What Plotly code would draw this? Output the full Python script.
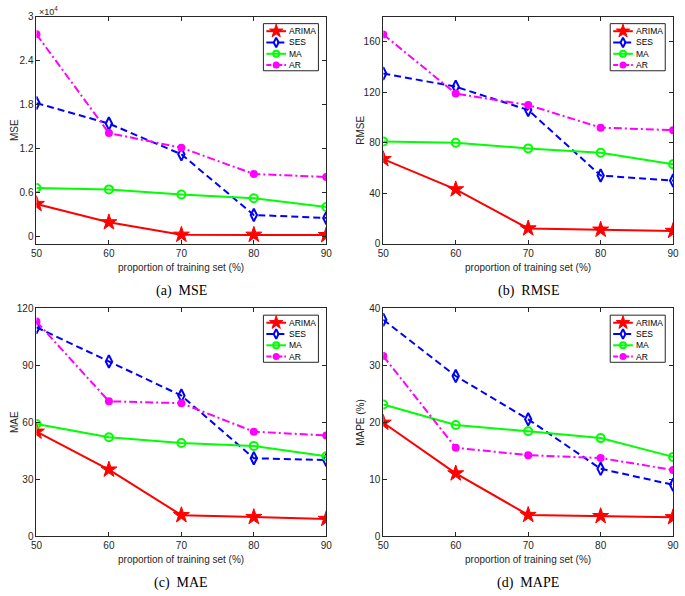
import plotly.graph_objects as go

W, H = 685, 596

x_props = [50, 60, 70, 80, 90]
models = ["ARIMA", "SES", "MA", "AR"]

# (a) MSE, in units of 1e4
mse_arima = [0.44, 0.19, 0.02, 0.02, 0.015]
mse_ses = [1.82, 1.54, 1.12, 0.29, 0.25]
mse_ma = [0.66, 0.64, 0.57, 0.52, 0.40]
mse_ar = [2.76, 1.41, 1.21, 0.85, 0.81]

# (b) RMSE
rmse_arima = [67, 43, 12, 11, 10]
rmse_ses = [135, 124.5, 106, 54, 50]
rmse_ma = [81, 80, 75.5, 72, 63]
rmse_ar = [166, 119, 110, 92, 90]

# (c) MAE
mae_arima = [55, 35, 11, 10, 9]
mae_ses = [110, 92, 74, 41, 40]
mae_ma = [59, 52, 49, 47.5, 42]
mae_ar = [113, 71, 70, 55, 53]

# (d) MAPE (%)
mape_arima = [19.9, 11.0, 3.7, 3.5, 3.3]
mape_ses = [38.0, 28.1, 20.5, 11.8, 9.0]
mape_ma = [23.1, 19.5, 18.4, 17.2, 13.9]
mape_ar = [31.6, 15.5, 14.2, 13.7, 11.6]

panels = [
    dict(series=[mse_arima, mse_ses, mse_ma, mse_ar], ytitle="MSE", caption="(a)  MSE",
         yrange=[-0.1, 3.0], ytickvals=[0, 0.6, 1.2, 1.8, 2.4, 3.0],
         yticktext=["0", "0.6", "1.2", "1.8", "2.4", "3"]),
    dict(series=[rmse_arima, rmse_ses, rmse_ma, rmse_ar], ytitle="RMSE", caption="(b)  RMSE",
         yrange=[0, 180], ytickvals=[0, 40, 80, 120, 160], yticktext=None),
    dict(series=[mae_arima, mae_ses, mae_ma, mae_ar], ytitle="MAE", caption="(c)  MAE",
         yrange=[0, 120], ytickvals=[0, 30, 60, 90, 120], yticktext=None),
    dict(series=[mape_arima, mape_ses, mape_ma, mape_ar], ytitle="MAPE (%)", caption="(d)  MAPE",
         yrange=[0, 40], ytickvals=[0, 10, 20, 30, 40], yticktext=None),
]

colors = {"ARIMA": "#ff0000", "SES": "#0000ff", "MA": "#00ff00", "AR": "#ff00ff"}
dashes = {"ARIMA": "solid", "SES": "7px,4px", "MA": "solid", "AR": "8px,3px,2px,3px"}
markers = {
    "ARIMA": dict(symbol="star", size=12, color="#ff0000", line=dict(color="#ff0000", width=1)),
    "SES": dict(symbol="diamond-tall-open", size=9, color="#0000ff", line=dict(color="#0000ff", width=2)),
    "MA": dict(symbol="circle-open", size=8, color="#00ff00", line=dict(color="#00ff00", width=2)),
    "AR": dict(symbol="circle", size=8, color="#ff00ff"),
}
legend_markers = {
    "ARIMA": dict(symbol="star", size=10, color="#ff0000", line=dict(color="#ff0000", width=1)),
    "SES": dict(symbol="diamond-tall-open", size=7, color="#0000ff", line=dict(color="#0000ff", width=2)),
    "MA": dict(symbol="circle-open", size=6, color="#00ff00", line=dict(color="#00ff00", width=2)),
    "AR": dict(symbol="circle", size=7, color="#ff00ff"),
}

# plot-area pixel boxes: (x0, x1, y_top, y_bottom)
boxes = [(31, 326, 12, 243), (384, 679, 12, 243), (31, 326, 309, 541), (384, 679, 309, 541)]

fig = go.Figure()
layout = dict(width=W, height=H, margin=dict(l=0, r=0, t=0, b=0),
              paper_bgcolor="white", plot_bgcolor="rgba(0,0,0,0)", showlegend=False,
              font=dict(family="Liberation Sans, Arial, sans-serif", size=10, color="#262626"))
annotations = []
shapes = []
axcolor = "#262626"

for i, p in enumerate(panels):
    n = i + 1
    xa = "x" if n == 1 else f"x{n}"
    ya = "y" if n == 1 else f"y{n}"
    x0, x1, yt, yb = boxes[i]
    for m, vals in zip(models, p["series"]):
        fig.add_trace(go.Scatter(x=x_props, y=vals, name=m, mode="lines+markers",
                                 xaxis=xa, yaxis=ya,
                                 line=dict(color=colors[m], width=2, dash=dashes[m]),
                                 marker=markers[m]))
    layout[f"xaxis{'' if n == 1 else n}"] = dict(
        domain=[x0 / W, x1 / W], range=[50, 90], tickvals=x_props, anchor=ya,
        showline=True, linecolor=axcolor, linewidth=1, mirror="ticks",
        ticks="inside", ticklen=4, tickcolor=axcolor, showgrid=False, zeroline=False,
        tickfont=dict(size=10, color="#262626"))
    yax = dict(domain=[1 - yb / H, 1 - yt / H], range=p["yrange"], tickvals=p["ytickvals"],
               anchor=xa, showline=True, linecolor=axcolor, linewidth=1, mirror="ticks",
               ticks="inside", ticklen=4, tickcolor=axcolor, showgrid=False, zeroline=False,
               tickfont=dict(size=10, color="#262626"))
    if p["yticktext"]:
        yax["ticktext"] = p["yticktext"]
    layout[f"yaxis{'' if n == 1 else n}"] = yax

    # compact legend (box, line samples, marker samples, labels)
    lx0, lx1 = x1 - 64, x1 - 8
    ly0, ly1 = yt + 7, yt + 55
    shapes.append(dict(type="rect", xref="paper", yref="paper", layer="above",
                       x0=lx0 / W, x1=lx1 / W, y0=1 - ly1 / H, y1=1 - ly0 / H,
                       line=dict(color="#262626", width=1), fillcolor="rgba(0,0,0,0)"))
    for k, m in enumerate(models):
        iy = yt + 14.7 + k * 11.5
        shapes.append(dict(type="line", xref="paper", yref="paper", layer="above",
                           x0=(x1 - 61) / W, x1=(x1 - 41) / W, y0=1 - iy / H, y1=1 - iy / H,
                           line=dict(color=colors[m], width=2,
                                     dash=dashes[m] if m != "AR" else "5px,2px,2px,2px")))
        fig.add_trace(go.Scatter(x=[x1 - 51], y=[iy], mode="markers", xaxis="x5", yaxis="y5",
                                 marker=legend_markers[m], hoverinfo="skip", showlegend=False))
        annotations.append(dict(text=m, xref="paper", yref="paper", x=(x1 - 40) / W,
                                y=1 - iy / H, showarrow=False, xanchor="left", yanchor="middle",
                                font=dict(size=8.5, color="black")))

    # axis titles and caption
    annotations.append(dict(text="proportion of training set (%)", xref="paper", yref="paper",
                            x=(x0 + x1) / 2 / W, y=1 - (yb + 24) / H, showarrow=False,
                            xanchor="center", yanchor="middle",
                            font=dict(size=10, color="#262626")))
    annotations.append(dict(text=p["ytitle"], xref="paper", yref="paper",
                            x=(x0 - (23 if n in (1, 3) else 24)) / W, y=1 - (yt + yb) / 2 / H,
                            showarrow=False, textangle=-90, xanchor="center", yanchor="middle",
                            font=dict(size=10, color="#262626")))
    annotations.append(dict(text=p["caption"], xref="paper", yref="paper",
                            x=(x0 + x1) / 2 / W, y=1 - (yb + 48) / H, showarrow=False,
                            xanchor="center", yanchor="middle",
                            font=dict(family="Liberation Serif, DejaVu Serif, serif",
                                      size=14, color="black")))

# overlay axis in pixel units, used only for the legend marker samples
layout["xaxis5"] = dict(domain=[0, 1], range=[0, W], visible=False, fixedrange=True, anchor="y5")
layout["yaxis5"] = dict(domain=[0, 1], range=[H, 0], visible=False, fixedrange=True, anchor="x5")

annotations.append(dict(text="×10<sup>4</sup>", xref="paper", yref="paper",
                        x=32 / W, y=1 - 6 / H, showarrow=False, xanchor="left",
                        yanchor="middle", font=dict(size=9, color="#262626")))
layout["annotations"] = annotations
layout["shapes"] = shapes
fig.update_layout(**layout)
fig.write_html("out.html", config={"displayModeBar": False},
               post_script="document.body.style.margin='0';")
